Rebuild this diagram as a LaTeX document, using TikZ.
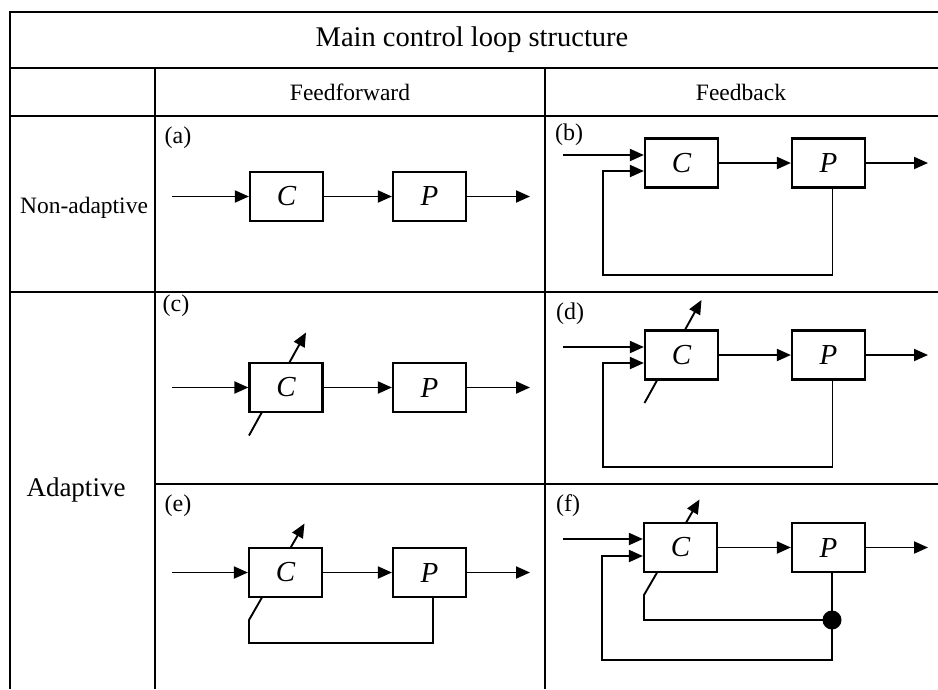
\documentclass[tikz,border=0pt]{standalone}
\usepackage{fontspec}
\setmainfont{Liberation Serif}
\usetikzlibrary{calc,arrows.meta}
\begin{document}
\begin{tikzpicture}[x=1pt,y=-1pt,
  >={Triangle[length=14pt,width=12pt]},
  rule/.style={line width=2.2pt},
  wire/.style={line width=1.9pt},
  blk/.style={draw,line width=2.2pt,fill=white,minimum width=73pt,minimum height=49pt,
              inner sep=0pt,font=\fontsize{29}{31}\selectfont\itshape},
  title/.style={font=\fontsize{28.5}{32}\selectfont},
  head/.style={font=\fontsize{23.5}{27}\selectfont},
  tag/.style={font=\fontsize{24}{28}\selectfont},
  jdot/.style={circle,fill,inner sep=0pt,minimum size=19pt}]
\useasboundingbox (0,0) rectangle (938,689);

% table rules
\draw[rule] (938,12) -- (10,12) -- (10,689);
\draw[rule] (10,68) -- (938,68);
\draw[rule] (10,116) -- (938,116);
\draw[rule] (10,292) -- (938,292);
\draw[rule] (155,484) -- (938,484);
\draw[rule] (155,68) -- (155,689);
\draw[rule] (545,68) -- (545,689);

% headings
\node[title] (ttl) at (472,40) {Main control loop structure};
\node[head] (ff) at (350,92) {Feedforward};
\node[head] (fb) at (741,92) {Feedback};
\node[font=\fontsize{23.5}{27}\selectfont] (nonad) at (84,208) {Non-adaptive};
\node[font=\fontsize{27}{31}\selectfont] (adap) at (76,490) {Adaptive};

% (a) open loop
\node[tag] (la) at (178,138) {(a)};
\node[blk] (Ca) at (286.5,196.5) {C};
\node[blk] (Pa) at (429.5,196.5) {P};
\coordinate (ain) at (172,196.5);
\coordinate (aout) at (530,196.5);
\draw[wire,->] (ain) -- (Ca);
\draw[wire,->] (Ca) -- (Pa);
\draw[wire,->] (Pa) -- (aout);

% (b) closed loop
\node[tag] (lb) at (569,135) {(b)};
\node[blk] (Cb) at (681.5,163) {C};
\node[blk] (Pb) at (828.5,163) {P};
\coordinate (bin) at (563,155);
\coordinate (bout) at (928,163);
\coordinate (bfb) at (603,275);
\draw[wire,->] (bin) -- (bin -| Cb.west);
\draw[wire,->] (Cb) -- (Pb);
\draw[wire,->] (Pb) -- (bout);
\draw[wire,->] ([xshift=4pt]Pb.south) |- (bfb) |- ($(Cb.west)+(0,8)$);

% (c) adaptive open loop
\node[tag] (lc) at (176,306) {(c)};
\coordinate (cc) at (286,387.5);
\coordinate (ctail) at ($(cc)+(-37,48)$);
\coordinate (ctip) at ($(cc)+(20,-55)$);
\draw[wire,->] (ctail) -- (ctip);
\node[blk] (Cc) at (cc) {C};
\node[blk] (Pc) at (429.5,387.5) {P};
\coordinate (cin) at (172,387.5);
\coordinate (cout) at (530,387.5);
\draw[wire,->] (cin) -- (Cc);
\draw[wire,->] (Cc) -- (Pc);
\draw[wire,->] (Pc) -- (cout);

% (d) adaptive closed loop
\node[tag] (ld) at (570,314) {(d)};
\coordinate (dc) at (681.5,355);
\coordinate (dtail) at ($(dc)+(-37,48)$);
\coordinate (dtip) at ($(dc)+(20,-55)$);
\draw[wire,->] (dtail) -- (dtip);
\node[blk] (Cd) at (dc) {C};
\node[blk] (Pd) at (828.5,355) {P};
\coordinate (din) at (563,347);
\coordinate (dout) at (928,355);
\coordinate (dfb) at (603,467);
\draw[wire,->] (din) -- (din -| Cd.west);
\draw[wire,->] (Cd) -- (Pd);
\draw[wire,->] (Pd) -- (dout);
\draw[wire,->] ([xshift=4pt]Pd.south) |- (dfb) |- ($(Cd.west)+(0,8)$);

% (e) open loop with plant output fed to the adaptation
\node[tag] (le) at (178,506) {(e)};
\coordinate (ec) at (285.5,572.5);
\node[blk] (Pe) at (429.5,572.5) {P};
\coordinate (efb) at (249,643);
\coordinate (etail) at ($(ec)+(-36.5,47.5)$);
\coordinate (etip) at ($(ec)+(19,-49)$);
\draw[wire,->] ([xshift=3.5pt]Pe.south) |- (efb) -- (etail) -- (etip);
\node[blk] (Ce) at (ec) {C};
\coordinate (ein) at (172,572.5);
\coordinate (eout) at (530,572.5);
\draw[wire,->] (ein) -- (Ce);
\draw[wire,->] (Ce) -- (Pe);
\draw[wire,->] (Pe) -- (eout);

% (f) closed loop with plant output fed to the adaptation
\node[tag] (lf) at (568,506) {(f)};
\coordinate (fc) at (680.5,547.5);
\node[blk] (Pf) at (828.5,547.5) {P};
\node[jdot] (fdot) at (832,620) {};
\coordinate (fk) at (644,620);
\coordinate (ftail) at ($(fc)+(-36.5,47.5)$);
\coordinate (ftip) at ($(fc)+(19,-48)$);
\draw[wire,->] (fdot.center) -- (fk) -- (ftail) -- (ftip);
\node[blk] (Cf) at (fc) {C};
\coordinate (fin) at (563,539);
\coordinate (fout) at (928,547.5);
\coordinate (ffb) at (602,660);
\draw[wire,->] (fin) -- (fin -| Cf.west);
\draw[wire,->] (Cf) -- (Pf);
\draw[wire,->] (Pf) -- (fout);
\draw[wire] ([xshift=3.5pt]Pf.south) -- (fdot.center);
\draw[wire,->] (fdot.center) |- (ffb) |- ($(Cf.west)+(0,8.5)$);
\end{tikzpicture}
\end{document}
